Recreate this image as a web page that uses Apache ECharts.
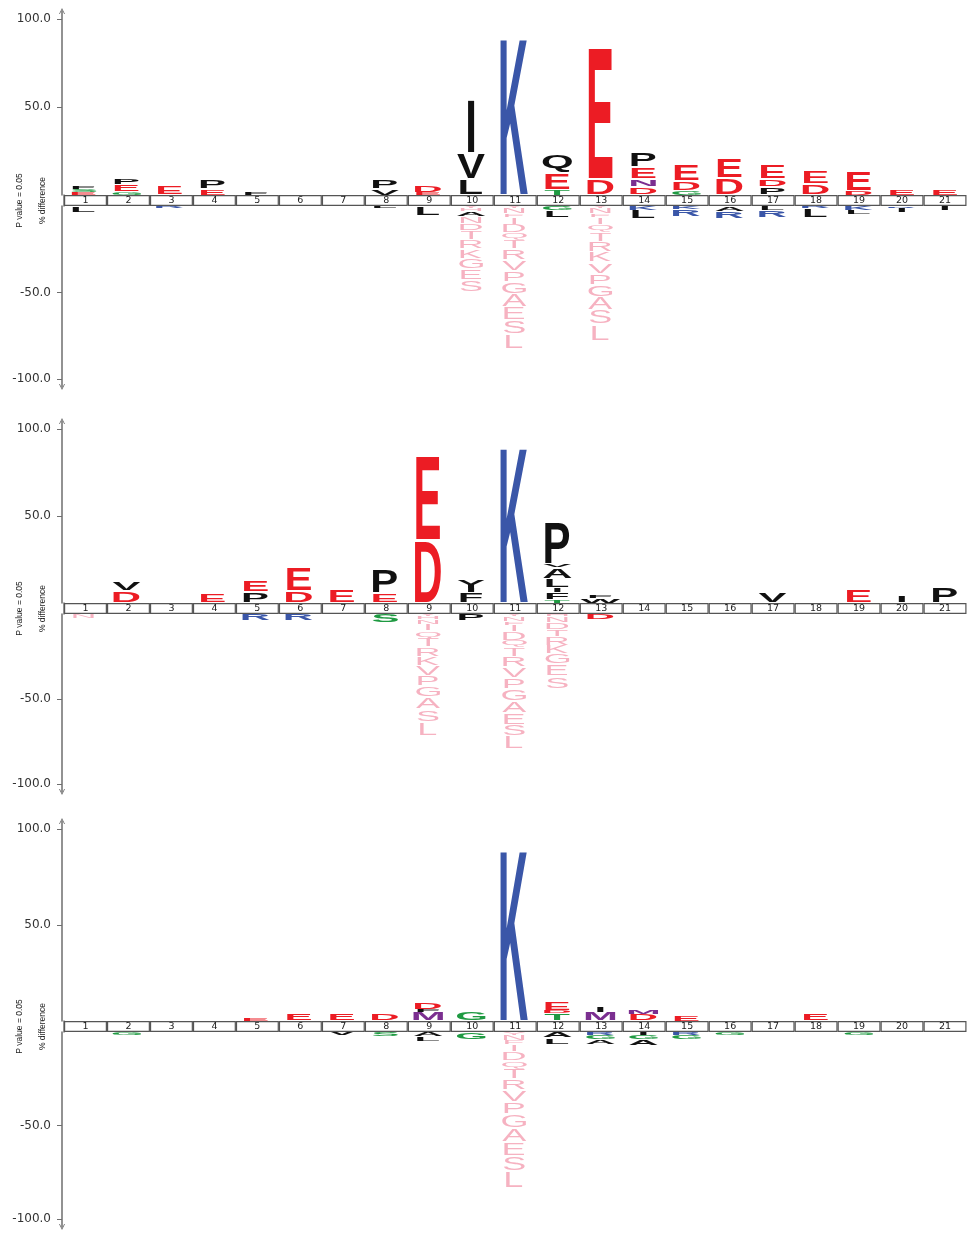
<!DOCTYPE html>
<html>
<head>
<meta charset="utf-8">
<script src="https://cdn.jsdelivr.net/npm/echarts@6/dist/echarts.min.js"></script>
<style>
html, body { margin: 0; padding: 0; background: #fff; }
#chart { width: 969px; height: 1235px; }
</style>
</head>
<body>
<div id="chart"></div>
<script>
// Sequence positions shown in the position bar of every logo
const positions = ['1','2','3','4','5','6','7','8','9','10','11','12','13','14','15','16','17','18','19','20','21'];

// Each entry is one position: residues with their % difference.
// "Up" stacks run from the bar upwards, "Down" stacks from the bar downwards.
// Lower-case letters are residues not found at all in the experimental set.
const logo1Up = ['E1.5 S1.5 F2', 'G2 E4 P3', 'E5.5', 'E3.5 P5.5', 'F1.5', '', '', 'V3.5 P5', 'E1.5 D4',
  'L9 V15 I30.5', 'K90', 'T3 E9.5 Q10.5', 'D9 E75', 'D4.5 N4.5 E7 P8.5', 'G2.5 D5.5 E9.5', 'D9.5 E11',
  'P4.5 D4.5 E8', 'D6 E7.5', 'D2.5 E11', 'E3.5', 'E3'];
const logo1Down = ['L3.5', '', 'R1.5', '', '', '', '', 'L1.5', 'L5.5',
  'y1.5 h1.5 A3 n4 d4.5 t5 r5.5 k5.5 g6 e6.5 s7',
  'y1.5 n3 f2 i4 d5 q4 t5.5 r6 v6.5 p6.5 g7 a7.5 e7.5 s8 l8.5',
  'G2.5 L4.5',
  'y1.5 n3 f2 i4 q4.5 t5.5 r6 k6 v6.5 p6.5 g7 a7.5 s8.5 l9.5',
  'K2.5 L5', 'K2 R4', 'A3 R4', 'L2.5 R4', 'R1.5 L5', 'K2.5 L2.5', 'R1 I2.5', 'I2.5'];

const logo2Up = ['', 'D7 V5.5', '', 'E5.5', 'P6.5 E7', 'D7 E13.5', 'E8', 'E5.5 P13.5', 'D36 E48',
  'F6 I2.5 Y5', 'K90', 'T2 F4 I3 L5 A6.5 V1.5 P24.5', 'W2.5 F2', '', '', '', 'V6', '', 'E8', 'I4', 'P9'];
const logo2Down = ['n2.5', '', '', '', 'R4', 'R4', '', 'S5.5',
  'y1.5 h1.5 n3 i4 q4.5 t5 r5.5 k5.5 v6 p6 g6.5 a7 s7.5 l8',
  'P4',
  'y1.5 n3 f2 i4 d5 q4 t5.5 r6 v6.5 p6.5 g7 a7 e7 s7 l7.5',
  'h1.5 n3.5 d4 t4.5 r5 k5 g6 e7 s7.5',
  'D3.5', '', '', '', '', '', '', '', ''];

const logo3Up = ['', '', '', '', 'E1.5', 'E4', 'E4', 'D3.5', 'M4.5 F1.5 D3.5', 'G5', 'K90',
  'T4 D1.5 E4.5', 'M4.5 I3', 'D3.5 M2', 'E3', '', '', 'E3.5', '', '', ''];
const logo3Down = ['', 'G2', '', '', '', '', 'V2', 'S2.5', 'A2.5 L2.5', 'G4',
  'y1.5 n3 f2 i4 d5 q4 t5.5 r6 v6.5 p6.5 g7.5 a7.5 e7.5 s8 l9',
  'A3 L3.5', 'R1.5 G2.5 A2.5', 'I1.5 G2.5 A3', 'R1.5 G2.5', 'G1.5', '', '', 'G2', '', ''];

const yTickValues = [50, 100];

// ---- drawing ----------------------------------------------------------
const GLYPH_FAMILY = '"Liberation Sans", Arial, sans-serif';
const residueColor = {
  D: '#ec1c24', E: '#ec1c24',
  K: '#3a56a8', R: '#3a56a8', H: '#3a56a8',
  G: '#1f9a42', S: '#1f9a42', T: '#1f9a42', C: '#1f9a42',
  N: '#7b2f90', M: '#7b2f90'
};
const ABSENT_COLOR = '#f6b2c1';
const AXIS_COLOR = '#6e6e6e';

// Pixel frame of each logo: +100, top of bar, bottom of bar, -100
const frames = [
  { y100: 19,  y0: 195,  yn0: 206,  yn100: 379 },
  { y100: 429, y0: 603,  yn0: 614,  yn100: 784 },
  { y100: 829, y0: 1021, yn0: 1032, yn100: 1219 }
];
const ARROW_RUN = 8;   // px the y axis continues past +/-100 to its arrow
const GRID_LEFT = 62, GRID_RIGHT = 2.5;

// glyph outline metrics, measured once per letter and weight
const measureCtx = document.createElement('canvas').getContext('2d');
const metricCache = {};
function glyphMetrics(ch, weight) {
  const key = weight + ch;
  if (!metricCache[key]) {
    measureCtx.font = weight + ' 100px ' + GLYPH_FAMILY;
    measureCtx.textAlign = 'center';
    measureCtx.textBaseline = 'middle';
    const m = measureCtx.measureText(ch);
    metricCache[key] = {
      l: m.actualBoundingBoxLeft, r: m.actualBoundingBoxRight,
      a: m.actualBoundingBoxAscent, d: m.actualBoundingBoxDescent
    };
  }
  return metricCache[key];
}

function parseStack(str) {
  if (!str) return [];
  return str.trim().split(/\s+/).map(function (tok) {
    const ch = tok.charAt(0);
    const absent = ch !== ch.toUpperCase();
    return { ch: ch.toUpperCase(), absent: absent, v: parseFloat(tok.slice(1)) };
  });
}

// Turn per-position stacks into [position, low, high] items
function buildItems(stacks, sign) {
  const items = [], glyphs = [];
  stacks.forEach(function (str, i) {
    let base = 0;
    parseStack(str).forEach(function (r) {
      const lo = base, hi = base + r.v;
      base = hi;
      items.push(sign > 0 ? [i + 1, lo, hi] : [i + 1, -hi, -lo]);
      glyphs.push({
        ch: r.ch,
        absent: r.absent,
        color: r.absent ? ABSENT_COLOR : (residueColor[r.ch] || '#111')
      });
    });
  });
  return { items: items, glyphs: glyphs };
}

function letterRenderer(glyphs) {
  return function (params, api) {
    const g = glyphs[params.dataIndex];
    const p = api.value(0);
    const a = api.coord([p - 0.5, api.value(2)]);
    const b = api.coord([p + 0.5, api.value(1)]);
    let top = Math.min(a[1], b[1]);
    let bottom = Math.max(a[1], b[1]);
    const pad = Math.min(1, (bottom - top) * 0.08);
    top += pad; bottom -= pad;
    const cx = (a[0] + b[0]) / 2;
    const weight = g.absent ? 'normal' : 'bold';
    const m = glyphMetrics(g.ch, weight);
    const sy = Math.max(bottom - top, 0.3) / (m.a + m.d);
    const sx = g.absent ? 0.36 : 0.42;
    return {
      type: 'text',
      x: cx - sx * (m.r - m.l) / 2,
      y: top + sy * m.a,
      scaleX: sx,
      scaleY: sy,
      silent: true,
      style: {
        text: g.ch,
        x: 0, y: 0,
        fontSize: 100,
        fontWeight: weight,
        fontFamily: GLYPH_FAMILY,
        fill: g.color,
        align: 'center',
        verticalAlign: 'middle'
      }
    };
  };
}

const chevron = 'path://M0,10 L5,0 L10,10 L8.6,10 L5,2.8 L1.4,10 Z';
const logos = [[logo1Up, logo1Down], [logo2Up, logo2Down], [logo3Up, logo3Down]];

const grid = [], xAxis = [], yAxis = [], series = [];

logos.forEach(function (logo, k) {
  const f = frames[k];
  const gUp = grid.length, gMid = gUp + 1, gDown = gUp + 2;
  const upH = f.y0 - f.y100, downH = f.yn100 - f.yn0;

  grid.push({ left: GRID_LEFT, right: GRID_RIGHT, top: f.y100 - ARROW_RUN, height: upH + ARROW_RUN });
  grid.push({ left: GRID_LEFT, right: GRID_RIGHT, top: f.y0, height: f.yn0 - f.y0 });
  grid.push({ left: GRID_LEFT, right: GRID_RIGHT, top: f.yn0, height: downH + ARROW_RUN });

  xAxis.push({ gridIndex: gUp, type: 'value', min: 0.5, max: 21.5, show: false });
  xAxis.push({ gridIndex: gMid, type: 'category', data: positions, show: false });
  xAxis.push({ gridIndex: gDown, type: 'value', min: 0.5, max: 21.5, show: false });

  const line = { show: true, onZero: false, lineStyle: { color: AXIS_COLOR, width: 1.5 } };
  const label = {
    fontSize: 12, fontFamily: 'DejaVu Sans', color: '#333', margin: 11,
    padding: [0, 0, 5, 0],
    formatter: function (v) { return Number(v).toFixed(1); }
  };
  yAxis.push({
    gridIndex: gUp, type: 'value', min: 0, max: 100 * (1 + ARROW_RUN / upH),
    axisLine: Object.assign({}, line, { symbol: ['none', chevron], symbolSize: [9, 6] }),
    axisTick: { show: true, length: 5, lineStyle: { color: AXIS_COLOR }, customValues: yTickValues },
    axisLabel: Object.assign({}, label, { customValues: yTickValues }),
    splitLine: { show: false }
  });
  yAxis.push({
    gridIndex: gMid, type: 'value', min: 0, max: 1,
    axisLine: line, axisTick: { show: false }, axisLabel: { show: false }, splitLine: { show: false },
    name: 'P value = 0.05\n% difference',
    nameLocation: 'middle', nameRotate: 90, nameGap: 10,
    nameTextStyle: { fontSize: 8.5, fontFamily: 'Liberation Sans', color: '#222', lineHeight: 23 }
  });
  const negTicks = yTickValues.map(function (v) { return -v; });
  yAxis.push({
    gridIndex: gDown, type: 'value', min: -100 * (1 + ARROW_RUN / downH), max: 0,
    axisLine: Object.assign({}, line, { symbol: [chevron, 'none'], symbolSize: [9, 6] }),
    axisTick: { show: true, length: 5, lineStyle: { color: AXIS_COLOR }, customValues: negTicks },
    axisLabel: Object.assign({}, label, { customValues: negTicks }),
    splitLine: { show: false }
  });

  // position bar
  series.push({
    type: 'bar', xAxisIndex: gMid, yAxisIndex: gMid,
    data: positions.map(function () { return 1; }),
    barWidth: '100%', silent: true,
    itemStyle: { color: '#fff', borderColor: '#555', borderWidth: 1.2 },
    label: { show: true, position: 'inside', formatter: '{b}', fontSize: 9.5, fontFamily: 'DejaVu Sans', color: '#222' }
  });

  [[logo[0], 1, gUp], [logo[1], -1, gDown]].forEach(function (def) {
    const built = buildItems(def[0], def[1]);
    series.push({
      type: 'custom', xAxisIndex: def[2], yAxisIndex: def[2],
      data: built.items,
      encode: { x: 0, y: [1, 2] },
      renderItem: letterRenderer(built.glyphs),
      clip: false, silent: true
    });
  });
});

const chart = echarts.init(document.getElementById('chart'));
chart.setOption({
  animation: false,
  backgroundColor: '#fff',
  grid: grid,
  xAxis: xAxis,
  yAxis: yAxis,
  series: series
});
</script>
</body>
</html>
